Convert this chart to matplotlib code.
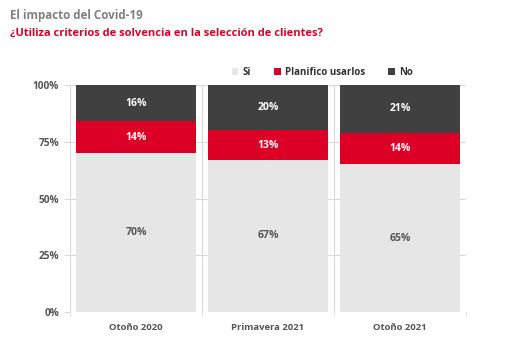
import numpy as np
import matplotlib
matplotlib.use("Agg")
import matplotlib.pyplot as plt
from matplotlib.patches import Patch

plt.rcParams['font.family'] = ['Open Sans', 'DejaVu Sans']

categories = ['Otoño 2020', 'Primavera 2021', 'Otoño 2021']
series_names = ['Si', 'Planifico usarlos', 'No']
si_vals = [70, 67, 65]
plan_vals = [14, 13, 14]
no_vals = [16, 20, 21]
yticks = [0, 25, 50, 75, 100]

colors = ['#e6e6e6', '#dc0026', '#404040']
label_colors = ['#555555', 'white', 'white']
grid_c = '#d9d9d9'
text_c = '#555555'

fig = plt.figure(figsize=(5.13, 3.48), dpi=100)
ax = fig.add_axes([0.1365, 0.1034, 0.7720, 0.6523])

x = np.arange(len(categories))
bottom = np.zeros(len(categories))
for vals, col, lc in zip([si_vals, plan_vals, no_vals], colors, label_colors):
    vals = np.array(vals)
    ax.bar(x, vals, bottom=bottom, width=0.91, color=col, zorder=2)
    for xi, b, v in zip(x, bottom, vals):
        ax.text(xi, b + v / 2, f'{v}%', ha='center', va='center',
                fontsize=7.5, fontweight='bold', color=lc, zorder=3)
    bottom += vals

ax.set_xlim(-0.5, 2.5)
ax.set_ylim(0, 100)

# grid lines
for yv in yticks:
    ax.axhline(yv, color=grid_c, lw=0.8, zorder=1)
for xv in [-0.5, 0.5, 1.5, 2.5]:
    ax.axvline(xv, color=grid_c, lw=0.8, zorder=1)

for s in ax.spines.values():
    s.set_visible(False)

ax.set_yticks(yticks)
ax.set_yticklabels([f'{v}%' for v in yticks], fontsize=7.3, fontweight='bold', color=text_c)
ax.tick_params(axis='y', length=4, color=grid_c, pad=4)
ax.set_xticks(x)
ax.set_xticklabels(categories, fontsize=6.8, fontweight='bold', color=text_c)
ax.tick_params(axis='x', length=0, pad=8)
ax.set_xticks([-0.5, 0.5, 1.5, 2.5], minor=True)
ax.tick_params(axis='x', which='minor', length=3, color=grid_c)

handles = [Patch(facecolor=c, edgecolor='none') for c in colors]
fig.legend(handles, series_names, loc='center right', bbox_to_anchor=(0.822, 0.793),
           ncol=3, frameon=False, handlelength=0.7, handleheight=0.7,
           handletextpad=0.4, columnspacing=2.4, prop={'weight': 'bold', 'size': 7})
for t in fig.legends[0].get_texts():
    t.set_color('#333333')

fig.text(0.02, 0.955, 'El impacto del Covid-19', fontsize=8.4, fontweight='bold',
         color='#808080', va='center')
fig.text(0.02, 0.905, '¿Utiliza criterios de solvencia en la selección de clientes?',
         fontsize=8, fontweight='bold', color='#dc0026', va='center')

fig.savefig('out.png', dpi=100, facecolor='white')
